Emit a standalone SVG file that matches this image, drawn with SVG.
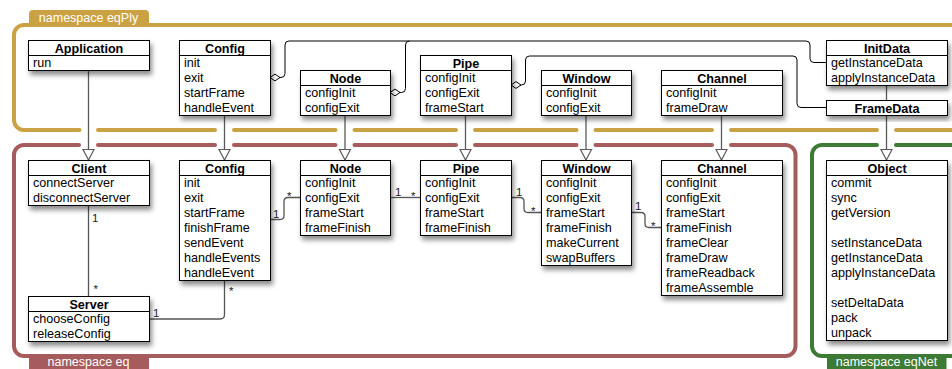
<svg xmlns="http://www.w3.org/2000/svg" width="952" height="369" viewBox="0 0 952 369">
<defs>
<style>
.box{fill:#fff;stroke:#000;stroke-width:1;filter:url(#sh)}
.sep{stroke:#000;stroke-width:1}
.hd{font:bold 12.6px "Liberation Sans",Arial,sans-serif;text-anchor:middle;fill:#000}
.it{font:12.6px "Liberation Sans",Arial,sans-serif;fill:#000}
.gen{fill:none;stroke:#5a5a5a;stroke-width:1.3;marker-end:url(#tri)}
.agg{fill:none;stroke:#000;stroke-width:1;marker-start:url(#dia)}
.asc{fill:none;stroke:#555;stroke-width:1.3}
.ml{font:11.5px "Liberation Sans",Arial,sans-serif;fill:#222}
.fr{fill:none;stroke-width:4;stroke-linecap:round}
.tab{font:12.5px "Liberation Sans",Arial,sans-serif;fill:#fff;text-anchor:middle}
</style>
<filter id="sh" x="-20%" y="-20%" width="150%" height="160%">
<feDropShadow dx="2" dy="4" stdDeviation="2.5" flood-color="#000" flood-opacity="0.45"/>
</filter>
<marker id="tri" markerUnits="userSpaceOnUse" markerWidth="14" markerHeight="14" refX="11" refY="6" orient="auto" overflow="visible">
<path d="M0.5,0.5 L11,6 L0.5,11.5 Z" fill="#fff" stroke="#5a5a5a" stroke-width="1.2"/>
</marker>
<marker id="dia" markerUnits="userSpaceOnUse" markerWidth="12" markerHeight="9" refX="0.5" refY="4" orient="auto" overflow="visible">
<path d="M0.5,4 L5.5,0.6 L10.5,4 L5.5,7.4 Z" fill="#fff" stroke="#000" stroke-width="1"/>
</marker>
</defs>
<rect width="952" height="369" fill="#fff"/>

<g id="frames">
<path d="M29 26 V14 Q29 10 33 10 H145 Q149 10 149 14 V26 Z" fill="#caa244"/>
<path class="fr" stroke="#caa244" d="M952 25 H24 A10 10 0 0 0 14 35 V120 A10 10 0 0 0 24 130 H79.5 M98 130 H215 M234 130 H335.5 M354.5 130 H456 M475 130 H576.5 M595.5 130 H712 M731 130 H877 M896 130 H952"/>
<text class="tab" x="88.5" y="21.5">namespace eqPly</text>

<path class="fr" stroke="#a65c5c" d="M79 145 H24 A10 10 0 0 0 14 155 V346 A10 10 0 0 0 24 356 H785.5 A10 10 0 0 0 795.5 346 V155 A10 10 0 0 0 785.5 145 H731 M98 145 H215 M234 145 H335.5 M354.5 145 H456 M475 145 H576.5 M595.5 145 H712"/>
<rect x="29" y="355" width="120" height="16" fill="#a65c5c"/>
<text class="tab" x="88.5" y="365.5">namespace eq</text>

<path class="fr" stroke="#3d7a34" d="M877 145 H822 A10 10 0 0 0 812 155 V346 A10 10 0 0 0 822 356 H952 M896 145 H952"/>
<rect x="827" y="355" width="119.5" height="16" fill="#3d7a34"/>
<text class="tab" x="886.5" y="365.5">namespace eqNet</text>
</g>

<g id="connectors">
<path class="gen" d="M88.5 70 V160"/>
<path class="gen" d="M224.5 115 V160"/>
<path class="gen" d="M345 115 V160"/>
<path class="gen" d="M465.5 115 V160"/>
<path class="gen" d="M586 115 V160"/>
<path class="gen" d="M721.5 115 V160"/>
<path class="gen" d="M886.5 85 V160"/>

<path class="agg" d="M270 77.5 H281 Q285 77.5 285 73.5 V45 Q285 41 289 41 H806 Q810 41 810 45 V58.5 Q810 62.5 814 62.5 H826"/>
<path class="agg" d="M390 92.5 H401.5 Q405.5 92.5 405.5 88.5 V45 Q405.5 41 409.5 41"/>
<path class="agg" d="M511 85 H521.5 Q525.5 85 525.5 81 V60 Q525.5 56 529.5 56 H793 Q797 56 797 60 V103.5 Q797 107.5 801 107.5 H826"/>

<path class="asc" d="M88.5 205 V296"/>
<text class="ml" x="92" y="221.5">1</text>
<text class="ml" x="93.5" y="293">*</text>
<path class="asc" d="M149 319 H220 Q224.5 319 224.5 314.5 V280"/>
<text class="ml" x="153" y="316.5">1</text>
<text class="ml" x="229" y="295">*</text>
<path class="asc" d="M270 219.5 H280 Q284 219.5 284 215.5 V201.5 Q284 197.5 288 197.5 H300"/>
<text class="ml" x="273" y="217.5">1</text>
<text class="ml" x="287" y="200">*</text>
<path class="asc" d="M390 197.5 H420"/>
<text class="ml" x="395" y="195.5">1</text>
<text class="ml" x="411" y="200">*</text>
<path class="asc" d="M511 197.5 H520 Q524 197.5 524 201.5 V208.5 Q524 212.5 528 212.5 H541"/>
<text class="ml" x="516" y="195.5">1</text>
<text class="ml" x="531" y="215">*</text>
<path class="asc" d="M631 212.5 H641 Q645 212.5 645 216.5 V223.5 Q645 227.5 649 227.5 H661"/>
<text class="ml" x="635" y="210">1</text>
<text class="ml" x="651" y="229.5">*</text>
</g>

<g id="eqPly-Application">
<rect class="box" x="28.5" y="40.5" width="121" height="30"/>
<line class="sep" x1="28.5" y1="55.5" x2="149.5" y2="55.5"/>
<text class="hd" x="89" y="52.5">Application</text>
<text class="it" x="33" y="66.5">run</text>
</g>
<g id="eqPly-Config">
<rect class="box" x="179.5" y="40.5" width="91" height="75"/>
<line class="sep" x1="179.5" y1="55.5" x2="270.5" y2="55.5"/>
<text class="hd" x="225" y="52.5">Config</text>
<text class="it" x="184" y="66.5">init</text>
<text class="it" x="184" y="81.5">exit</text>
<text class="it" x="184" y="96.5">startFrame</text>
<text class="it" x="184" y="111.5">handleEvent</text>
</g>
<g id="eqPly-Node">
<rect class="box" x="300.5" y="70.5" width="90" height="45"/>
<line class="sep" x1="300.5" y1="85.5" x2="390.5" y2="85.5"/>
<text class="hd" x="345.5" y="82.5">Node</text>
<text class="it" x="305" y="96.5">configInit</text>
<text class="it" x="305" y="111.5">configExit</text>
</g>
<g id="eqPly-Pipe">
<rect class="box" x="420.5" y="55.5" width="91" height="60"/>
<line class="sep" x1="420.5" y1="70.5" x2="511.5" y2="70.5"/>
<text class="hd" x="466" y="67.5">Pipe</text>
<text class="it" x="425" y="81.5">configInit</text>
<text class="it" x="425" y="96.5">configExit</text>
<text class="it" x="425" y="111.5">frameStart</text>
</g>
<g id="eqPly-Window">
<rect class="box" x="541.5" y="70.5" width="90" height="45"/>
<line class="sep" x1="541.5" y1="85.5" x2="631.5" y2="85.5"/>
<text class="hd" x="586.5" y="82.5">Window</text>
<text class="it" x="546" y="96.5">configInit</text>
<text class="it" x="546" y="111.5">configExit</text>
</g>
<g id="eqPly-Channel">
<rect class="box" x="661.5" y="70.5" width="121" height="45"/>
<line class="sep" x1="661.5" y1="85.5" x2="782.5" y2="85.5"/>
<text class="hd" x="722" y="82.5">Channel</text>
<text class="it" x="666" y="96.5">configInit</text>
<text class="it" x="666" y="111.5">frameDraw</text>
</g>
<g id="eqPly-InitData">
<rect class="box" x="826.5" y="40.5" width="121" height="45"/>
<line class="sep" x1="826.5" y1="55.5" x2="947.5" y2="55.5"/>
<text class="hd" x="887" y="52.5">InitData</text>
<text class="it" x="831" y="66.5">getInstanceData</text>
<text class="it" x="831" y="81.5">applyInstanceData</text>
</g>
<g id="eqPly-FrameData">
<rect class="box" x="826.5" y="100.5" width="121" height="15"/>
<text class="hd" x="887" y="112.5">FrameData</text>
</g>

<g id="eq-Client">
<rect class="box" x="28.5" y="160.5" width="121" height="45"/>
<line class="sep" x1="28.5" y1="175.5" x2="149.5" y2="175.5"/>
<text class="hd" x="89" y="172.5">Client</text>
<text class="it" x="33" y="186.5">connectServer</text>
<text class="it" x="33" y="201.5">disconnectServer</text>
</g>
<g id="eq-Config">
<rect class="box" x="179.5" y="160.5" width="91" height="120"/>
<line class="sep" x1="179.5" y1="175.5" x2="270.5" y2="175.5"/>
<text class="hd" x="225" y="172.5">Config</text>
<text class="it" x="184" y="186.5">init</text>
<text class="it" x="184" y="201.5">exit</text>
<text class="it" x="184" y="216.5">startFrame</text>
<text class="it" x="184" y="231.5">finishFrame</text>
<text class="it" x="184" y="246.5">sendEvent</text>
<text class="it" x="184" y="261.5">handleEvents</text>
<text class="it" x="184" y="276.5">handleEvent</text>
</g>
<g id="eq-Node">
<rect class="box" x="300.5" y="160.5" width="90" height="75"/>
<line class="sep" x1="300.5" y1="175.5" x2="390.5" y2="175.5"/>
<text class="hd" x="345.5" y="172.5">Node</text>
<text class="it" x="305" y="186.5">configInit</text>
<text class="it" x="305" y="201.5">configExit</text>
<text class="it" x="305" y="216.5">frameStart</text>
<text class="it" x="305" y="231.5">frameFinish</text>
</g>
<g id="eq-Pipe">
<rect class="box" x="420.5" y="160.5" width="91" height="75"/>
<line class="sep" x1="420.5" y1="175.5" x2="511.5" y2="175.5"/>
<text class="hd" x="466" y="172.5">Pipe</text>
<text class="it" x="425" y="186.5">configInit</text>
<text class="it" x="425" y="201.5">configExit</text>
<text class="it" x="425" y="216.5">frameStart</text>
<text class="it" x="425" y="231.5">frameFinish</text>
</g>
<g id="eq-Window">
<rect class="box" x="541.5" y="160.5" width="90" height="105"/>
<line class="sep" x1="541.5" y1="175.5" x2="631.5" y2="175.5"/>
<text class="hd" x="586.5" y="172.5">Window</text>
<text class="it" x="546" y="186.5">configInit</text>
<text class="it" x="546" y="201.5">configExit</text>
<text class="it" x="546" y="216.5">frameStart</text>
<text class="it" x="546" y="231.5">frameFinish</text>
<text class="it" x="546" y="246.5">makeCurrent</text>
<text class="it" x="546" y="261.5">swapBuffers</text>
</g>
<g id="eq-Channel">
<rect class="box" x="661.5" y="160.5" width="121" height="135"/>
<line class="sep" x1="661.5" y1="175.5" x2="782.5" y2="175.5"/>
<text class="hd" x="722" y="172.5">Channel</text>
<text class="it" x="666" y="186.5">configInit</text>
<text class="it" x="666" y="201.5">configExit</text>
<text class="it" x="666" y="216.5">frameStart</text>
<text class="it" x="666" y="231.5">frameFinish</text>
<text class="it" x="666" y="246.5">frameClear</text>
<text class="it" x="666" y="261.5">frameDraw</text>
<text class="it" x="666" y="276.5">frameReadback</text>
<text class="it" x="666" y="291.5">frameAssemble</text>
</g>
<g id="eq-Server">
<rect class="box" x="28.5" y="296.5" width="121" height="45"/>
<line class="sep" x1="28.5" y1="311.5" x2="149.5" y2="311.5"/>
<text class="hd" x="89" y="308.5">Server</text>
<text class="it" x="33" y="322.5">chooseConfig</text>
<text class="it" x="33" y="337.5">releaseConfig</text>
</g>
<g id="eqNet-Object">
<rect class="box" x="826.5" y="160.5" width="121" height="180"/>
<line class="sep" x1="826.5" y1="175.5" x2="947.5" y2="175.5"/>
<text class="hd" x="887" y="172.5">Object</text>
<text class="it" x="831" y="186.5">commit</text>
<text class="it" x="831" y="201.5">sync</text>
<text class="it" x="831" y="216.5">getVersion</text>
<text class="it" x="831" y="246.5">setInstanceData</text>
<text class="it" x="831" y="261.5">getInstanceData</text>
<text class="it" x="831" y="276.5">applyInstanceData</text>
<text class="it" x="831" y="306.5">setDeltaData</text>
<text class="it" x="831" y="321.5">pack</text>
<text class="it" x="831" y="336.5">unpack</text>
</g>
</svg>
